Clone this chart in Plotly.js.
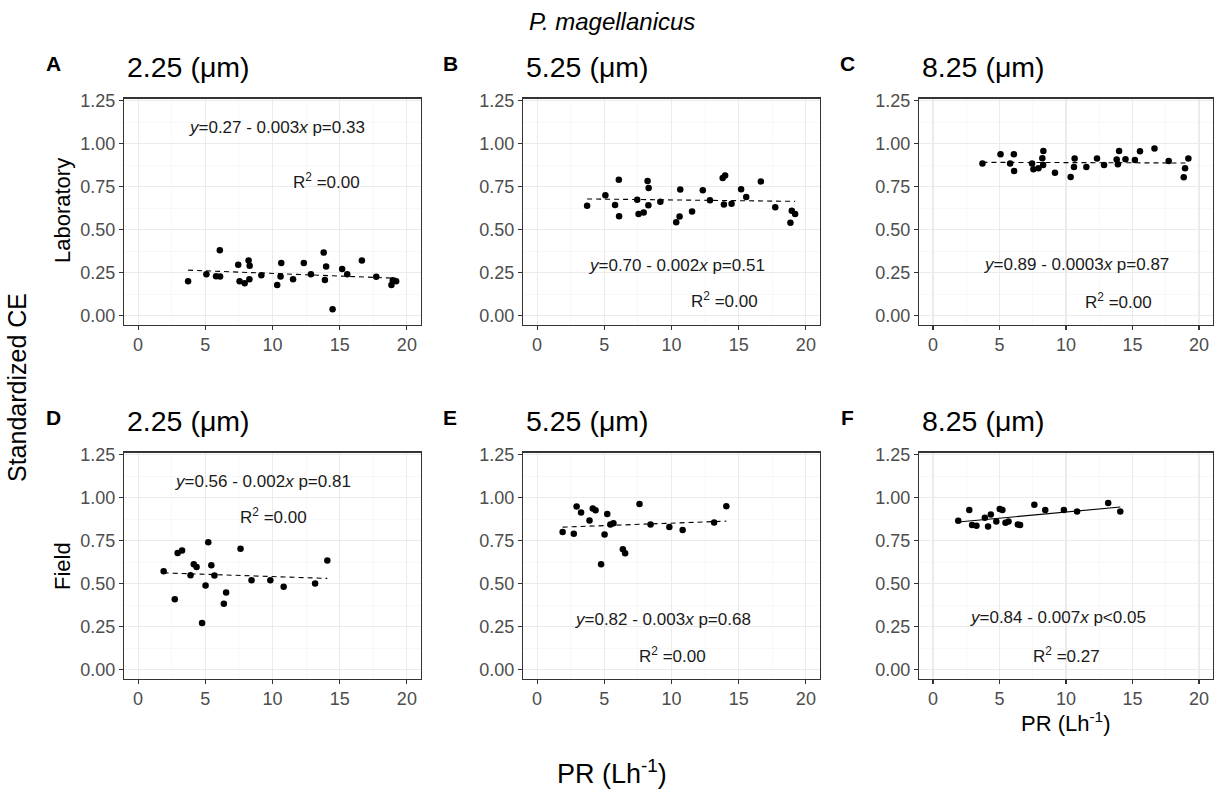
<!DOCTYPE html>
<html><head><meta charset="utf-8">
<script src="https://cdn.plot.ly/plotly-3.0.1.min.js"></script>
<style>html,body{margin:0;padding:0;background:#fff}#chart{width:1225px;height:794px}</style>
</head><body><div id="chart"></div>
<script>
// ---------- data ----------
const xTicks = [0, 5, 10, 15, 20];
const yTicks = [0, 0.25, 0.5, 0.75, 1, 1.25];
const yTickText = ['0.00', '0.25', '0.50', '0.75', '1.00', '1.25'];
const panelLetters = ['A', 'B', 'C', 'D', 'E', 'F'];
const sizeTitles = ['2.25 (μm)', '5.25 (μm)', '8.25 (μm)', '2.25 (μm)', '5.25 (μm)', '8.25 (μm)'];

// Laboratory: pumping rate (L h-1)
const labPR = [3.72, 5.08, 5.8, 6.08, 6.1, 7.45, 7.55, 7.93, 8.22, 8.28, 8.3, 9.17, 10.35, 10.6, 10.65, 11.53, 12.33, 12.86, 13.81, 13.9, 13.99, 14.47, 15.18, 15.56, 16.65, 17.72, 18.85, 18.95, 19.2];
const labCE_225 = [0.20, 0.24, 0.229, 0.38, 0.227, 0.295, 0.20, 0.188, 0.32, 0.211, 0.289, 0.234, 0.178, 0.227, 0.306, 0.211, 0.306, 0.24, 0.366, 0.207, 0.285, 0.037, 0.27, 0.24, 0.32, 0.225, 0.178, 0.206, 0.20];
const labCE_525 = [0.638, 0.70, 0.643, 0.79, 0.578, 0.674, 0.591, 0.599, 0.783, 0.641, 0.742, 0.661, 0.543, 0.576, 0.733, 0.605, 0.729, 0.67, 0.80, 0.645, 0.815, 0.65, 0.735, 0.69, 0.78, 0.63, 0.54, 0.61, 0.59];
const labCE_825 = [0.884, 0.938, 0.884, 0.938, 0.841, 0.884, 0.851, 0.857, 0.915, 0.876, 0.957, 0.831, 0.806, 0.864, 0.913, 0.864, 0.913, 0.876, 0.907, 0.88, 0.957, 0.909, 0.905, 0.955, 0.971, 0.899, 0.804, 0.857, 0.913];

// Field
const fieldPR = [1.9, 2.73, 2.94, 3.27, 3.9, 4.14, 4.35, 4.76, 5.02, 5.22, 5.45, 5.68, 6.38, 6.55, 7.62, 8.44, 9.84, 10.83, 13.17, 14.08];
const fieldCE_225 = [0.572, 0.409, 0.678, 0.692, 0.548, 0.612, 0.597, 0.271, 0.488, 0.74, 0.607, 0.547, 0.382, 0.448, 0.702, 0.519, 0.519, 0.481, 0.50, 0.634];
const fieldCE_525 = [0.80, 0.789, 0.948, 0.913, 0.866, 0.936, 0.926, 0.612, 0.785, 0.905, 0.843, 0.851, 0.70, 0.676, 0.963, 0.843, 0.829, 0.812, 0.855, 0.95];
const fieldCE_825 = [0.865, 0.927, 0.84, 0.836, 0.882, 0.832, 0.902, 0.861, 0.934, 0.927, 0.853, 0.861, 0.844, 0.84, 0.958, 0.927, 0.927, 0.919, 0.969, 0.919];

// fitted lines (value at smallest and largest PR of each panel)
const fitStart = [0.264, 0.678, 0.891, 0.562, 0.828, 0.858];
const fitEnd = [0.217, 0.664, 0.887, 0.530, 0.863, 0.945];
const fitSignificant = [false, false, false, false, false, true];

const eqText = [
  '<i>y</i>=0.27 - 0.003<i>x</i> p=0.33',
  '<i>y</i>=0.70 - 0.002<i>x</i> p=0.51',
  '<i>y</i>=0.89 - 0.0003<i>x</i> p=0.87',
  '<i>y</i>=0.56 - 0.002<i>x</i> p=0.81',
  '<i>y</i>=0.82 - 0.003<i>x</i> p=0.68',
  '<i>y</i>=0.84 - 0.007<i>x</i> p<0.05'
];
const r2Text = ['R<sup>2</sup> =0.00', 'R<sup>2</sup> =0.00', 'R<sup>2</sup> =0.00', 'R<sup>2</sup> =0.00', 'R<sup>2</sup> =0.00', 'R<sup>2</sup> =0.27'];

// ---------- layout ----------
const W = 1225, H = 794;
const FONT = 'Liberation Sans, Arial, Helvetica, sans-serif';
const cols = [[124, 421], [523, 820], [919, 1213]];
const rows = [[98.5, 324.5], [452.5, 678.5]];
const eqPos = [[3.66, 1.093], [3.68, 0.29], [3.71, 0.298], [2.56, 1.095], [2.69, 0.29], [2.67, 0.30]];
const r2Pos = [[11.4, 0.78], [11.3, 0.09], [11.26, 0.085], [7.41, 0.891], [7.41, 0.087], [7.38, 0.083]];

const panelX = [labPR, labPR, labPR, fieldPR, fieldPR, fieldPR];
const panelY = [labCE_225, labCE_525, labCE_825, fieldCE_225, fieldCE_525, fieldCE_825];

const traces = [];
const layout = {
  width: W, height: H, margin: {l: 0, r: 0, t: 0, b: 0},
  paper_bgcolor: '#fff', plot_bgcolor: '#fff', showlegend: false,
  font: {family: FONT, color: '#000', size: 16}, annotations: []
};

for (let i = 0; i < 6; i++) {
  const s = i === 0 ? '' : String(i + 1);
  const c = cols[i % 3], r = rows[Math.floor(i / 3)];
  const xs = panelX[i], ys = panelY[i];
  traces.push({
    type: 'scatter', mode: 'markers', x: xs, y: ys, xaxis: 'x' + s, yaxis: 'y' + s,
    marker: {color: '#000', size: 6.5}, hoverinfo: 'x+y'
  });
  const xmin = Math.min(...xs), xmax = Math.max(...xs);
  traces.push({
    type: 'scatter', mode: 'lines', x: [xmin, xmax], y: [fitStart[i], fitEnd[i]],
    xaxis: 'x' + s, yaxis: 'y' + s,
    line: {color: '#000', width: 1.1, dash: fitSignificant[i] ? 'solid' : '5px,4px'}, hoverinfo: 'skip'
  });
  const common = {
    showline: true, mirror: true, linecolor: '#333333', linewidth: 1.1,
    ticks: 'outside', ticklen: 4, tickwidth: 1.1, tickcolor: '#333333',
    tickfont: {family: FONT, size: 18, color: '#4D4D4D'},
    showgrid: true, gridcolor: '#EBEBEB', gridwidth: 1.1, zeroline: false, fixedrange: true
  };
  layout['xaxis' + s] = Object.assign({}, common, {
    domain: [c[0] / W, c[1] / W], anchor: 'y' + s, range: [-1.05, 21.05],
    tickmode: 'array', tickvals: xTicks, ticktext: xTicks.map(String),
    minor: {tickmode: 'array', tickvals: [2.5, 7.5, 12.5, 17.5], showgrid: true, gridcolor: '#F4F4F4', gridwidth: 0.6, ticks: ''}
  });
  layout['yaxis' + s] = Object.assign({}, common, {
    domain: [1 - r[1] / H, 1 - r[0] / H], anchor: 'x' + s, range: [-0.052, 1.262],
    tickmode: 'array', tickvals: yTicks, ticktext: yTickText,
    minor: {tickmode: 'array', tickvals: [0.125, 0.375, 0.625, 0.875, 1.125], showgrid: true, gridcolor: '#F4F4F4', gridwidth: 0.6, ticks: ''}
  });
  // equation and R2
  layout.annotations.push({
    xref: 'x' + s, yref: 'y' + s, x: eqPos[i][0], y: eqPos[i][1], text: eqText[i],
    showarrow: false, xanchor: 'left', yanchor: 'middle', font: {family: FONT, size: 17, color: '#1a1a1a'}
  });
  layout.annotations.push({
    xref: 'x' + s, yref: 'y' + s, x: r2Pos[i][0], y: r2Pos[i][1], text: r2Text[i],
    showarrow: false, xanchor: 'left', yanchor: 'middle', font: {family: FONT, size: 17, color: '#1a1a1a'}
  });
  // panel letter and title
  const rowOff = Math.floor(i / 3) * 354;
  layout.annotations.push({
    xref: 'paper', yref: 'paper', x: (53 + (i % 3) * 397) / W, y: 1 - (63 + rowOff) / H,
    text: '<b>' + panelLetters[i] + '</b>', showarrow: false, xanchor: 'center', yanchor: 'middle',
    font: {family: FONT, size: 21, color: '#000'}
  });
  layout.annotations.push({
    xref: 'paper', yref: 'paper', x: (c[0] + 1) / W, y: 1 - (67 + rowOff) / H,
    text: sizeTitles[i], showarrow: false, xanchor: 'left', yanchor: 'middle',
    font: {family: FONT, size: 28.5, color: '#000'}
  });
}

// global labels
layout.annotations.push(
  {xref: 'paper', yref: 'paper', x: 612 / W, y: 1 - 22 / H, text: '<i>P. magellanicus</i>', showarrow: false,
   xanchor: 'center', yanchor: 'middle', font: {family: FONT, size: 24, color: '#000'}},
  {xref: 'paper', yref: 'paper', x: 17 / W, y: 1 - 388 / H, text: 'Standardized CE', showarrow: false, textangle: -90,
   xanchor: 'center', yanchor: 'middle', font: {family: FONT, size: 25, color: '#000'}},
  {xref: 'paper', yref: 'paper', x: 62 / W, y: 1 - 211 / H, text: 'Laboratory', showarrow: false, textangle: -90,
   xanchor: 'center', yanchor: 'middle', font: {family: FONT, size: 22, color: '#000'}},
  {xref: 'paper', yref: 'paper', x: 62 / W, y: 1 - 566 / H, text: 'Field', showarrow: false, textangle: -90,
   xanchor: 'center', yanchor: 'middle', font: {family: FONT, size: 22, color: '#000'}},
  {xref: 'paper', yref: 'paper', x: 612 / W, y: 1 - 772 / H, text: 'PR (Lh<sup>-1</sup>)', showarrow: false,
   xanchor: 'center', yanchor: 'middle', font: {family: FONT, size: 27, color: '#000'}},
  {xref: 'paper', yref: 'paper', x: 1066 / W, y: 1 - 722 / H, text: 'PR (Lh<sup>-1</sup>)', showarrow: false,
   xanchor: 'center', yanchor: 'middle', font: {family: FONT, size: 22, color: '#000'}}
);

Plotly.newPlot('chart', traces, layout, {displayModeBar: false, staticPlot: true});
</script></body></html>
